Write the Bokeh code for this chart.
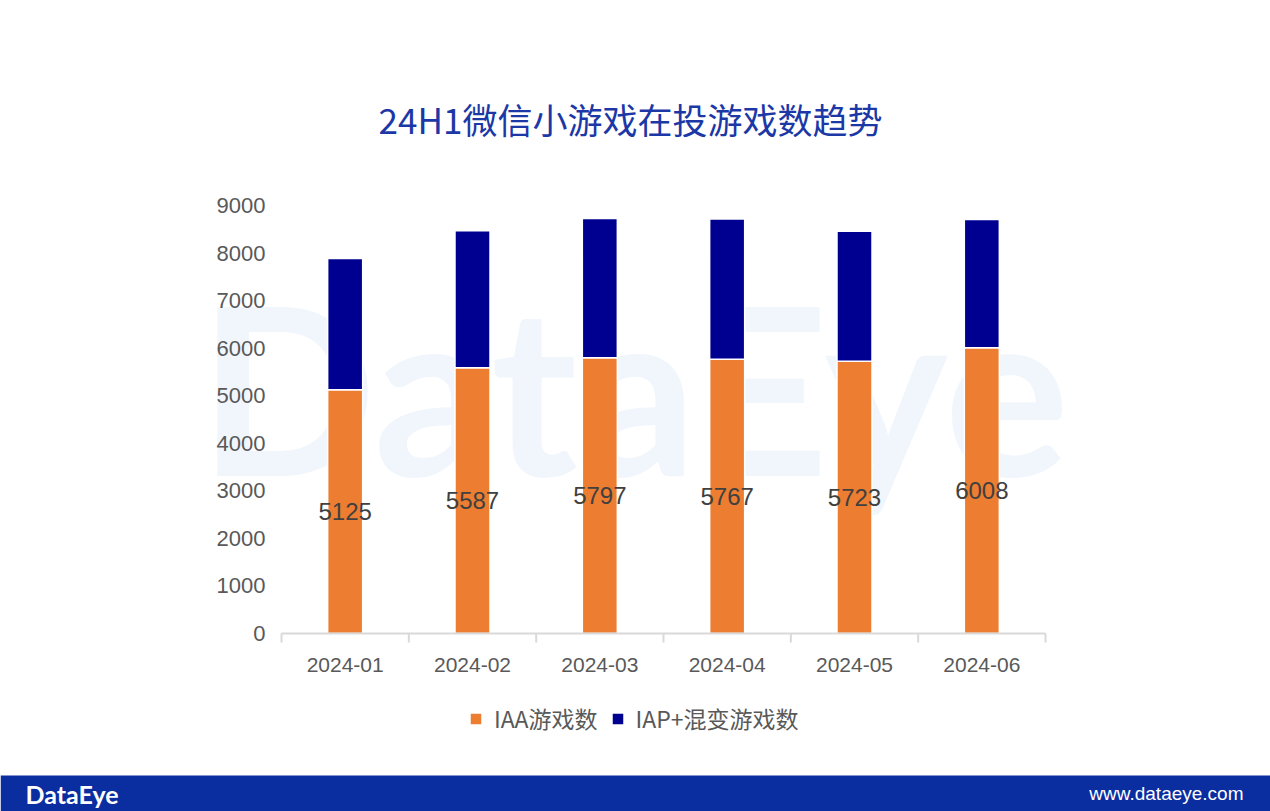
from bokeh.plotting import figure
from bokeh.models import Range1d, ColumnDataSource
from bokeh.embed import file_html
from bokeh.resources import INLINE
from bokeh.core.properties import value

# ---- data ----
months = ["2024-01", "2024-02", "2024-03", "2024-04", "2024-05", "2024-06"]
iaa_games = [5125, 5587, 5797, 5767, 5723, 6008]
iap_games = [2762, 2881, 2932, 2947, 2738, 2700]
y_ticks = [0, 1000, 2000, 3000, 4000, 5000, 6000, 7000, 8000, 9000]
series_names = ["IAA游戏数", "IAP+混变游戏数"]
title_text = "24H1微信小游戏在投游戏数趋势"

# ---- styles ----
ORANGE = "#ED7D31"
NAVY = "#000090"
TITLE_BLUE = "#1B38A6"
FOOT_BLUE = "#0A2DA0"
LABEL_GREY = "#595959"
AXIS_GREY = "#D9D9D9"
LATIN = "Liberation Sans"
CJK = "Noto Sans CJK SC"

# ---- layout (page pixels) ----
W, H = 1270, 811
PLOT_L, PLOT_R = 281, 1045     # ends of the category axis
ZERO_Y, TOP_Y = 633, 205       # pixel rows of 0 and of the top tick
n = len(months)
y_max = y_ticks[-1]
ux = n / (PLOT_R - PLOT_L)     # data units per pixel
uy = y_max / (ZERO_Y - TOP_Y)


def px_x(px):
    return (px - PLOT_L) * ux


def px_y(py):
    return (ZERO_Y - py) * uy


p = figure(width=W, height=H,
           x_range=Range1d(px_x(0), px_x(W)), y_range=Range1d(px_y(H), px_y(0)),
           output_backend="svg", toolbar_location=None, min_border=0,
           x_axis_type=None, y_axis_type=None)
p.outline_line_color = None
p.background_fill_color = "white"
p.border_fill_color = "white"

# watermark
p.text(x=[px_x(198)], y=[px_y(385)], text=["DataEye"],
       text_font=value("Lato"), text_font_style="bold", text_font_size="234px",
       text_color="#F1F6FC", text_baseline="middle", text_align="left")

# bars
xs = [i + 0.5 for i in range(n)]
source = ColumnDataSource(dict(
    x=xs, iaa=iaa_games, iap=iap_games,
    label_y=[v / 2 for v in iaa_games],
    label=[str(v) for v in iaa_games],
))
p.vbar_stack(["iaa", "iap"], x="x", width=0.275, source=source,
             fill_color=[ORANGE, NAVY], line_color="white", line_width=1.5,
             legend_label=series_names)

# value labels
p.text(x="x", y="label_y", text="label", source=source,
       text_align="center", text_baseline="middle",
       text_font=value(LATIN), text_font_size="24px", text_color="#404040")

# y axis labels
p.text(x=[px_x(265)] * len(y_ticks), y=y_ticks, text=[str(t) for t in y_ticks],
       text_align="right", text_baseline="middle",
       text_font=value(LATIN), text_font_size="22px", text_color=LABEL_GREY)

# x axis line, boundary ticks and labels
bounds = list(range(n + 1))
p.segment(x0=[0], y0=[0], x1=[n], y1=[0], line_color=AXIS_GREY, line_width=2)
p.segment(x0=bounds, y0=[0] * len(bounds), x1=bounds, y1=[px_y(642)] * len(bounds),
          line_color=AXIS_GREY, line_width=2)
p.text(x=xs, y=[px_y(664)] * n, text=months,
       text_align="center", text_baseline="middle",
       text_font=value(LATIN), text_font_size="21px", text_color=LABEL_GREY)

# title
p.text(x=[px_x(630)], y=[px_y(118)], text=[title_text],
       text_align="center", text_baseline="middle",
       text_font=value(CJK), text_font_size="35px", text_color=TITLE_BLUE)

# legend
lg = p.legend[0]
lg.orientation = "horizontal"
lg.location = (468, 76)
lg.border_line_color = None
lg.background_fill_alpha = 0
lg.padding = 0
lg.margin = 0
lg.spacing = 12
lg.glyph_width = 15
lg.glyph_height = 15
lg.label_standoff = 11
lg.label_text_font = CJK
lg.label_text_font_size = "23px"
lg.label_text_color = LABEL_GREY

# footer band
p.quad(left=[px_x(0)], right=[px_x(W)], bottom=[px_y(H)], top=[px_y(775)],
       fill_color=FOOT_BLUE, line_color=None)
p.text(x=[px_x(25)], y=[px_y(793)], text=["DataEye"],
       text_align="left", text_baseline="middle",
       text_font=value("Lato"), text_font_style="bold", text_font_size="25px",
       text_color="white")
p.text(x=[px_x(1243)], y=[px_y(793)], text=["www.dataeye.com"],
       text_align="right", text_baseline="middle",
       text_font=value(LATIN), text_font_size="19px", text_color="white")

open("out.html", "w").write(file_html(p, INLINE))
